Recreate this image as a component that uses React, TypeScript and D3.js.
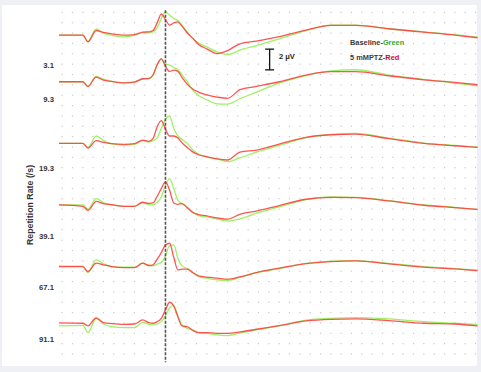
import React, { useEffect, useRef } from 'react';
import * as d3 from 'd3';

// sample times (ms), stimulus at 0
const times = [-51.5, -40, -37.5, -33.5, -30, -26, -20, -15, -11, -8, -6, -4, -2, 0, 2, 4, 6, 8, 10.5, 13, 16, 20, 25, 30, 36, 44, 55, 68, 80, 92, 108, 125, 140, 151];

// repetition rates (/s), top to bottom
const rateLabels = ['3.1', '9.3', '19.3', '39.1', '67.1', '91.1'];
const labelLevels = [27.9, 24.65, 17.95, 11.35, 6.45, 1.4];
const traceOffsets = [30.8, 26.3, 20.35, 14.4, 8.45, 3.0];

// baseline (green), uV relative to trace offset
const greenTraces = [
  [0, 0, -0.6, 0.61, 0.19, 0, -0.16, -0.03, 0.23, 0.23, 0.32, 0.71, 1.61, 2.25, 1.93, 1.61, 1.42, 0.97, 0.32, -0.26, -0.77, -1.13, -1.61, -1.87, -1.45, -1.0, -0.35, 0.45, 0.97, 0.97, 0.62, 0.32, 0.06, -0.18],
  [0, 0, -0.45, 0.52, 0.26, 0.03, -0.1, -0.03, 0.26, 0.29, 0.61, 1.64, 2.22, 1.77, 1.61, 1.38, 1.16, 0.68, 0.03, -0.77, -1.32, -1.74, -2.13, -2.16, -1.64, -1.0, -0.13, 0.6, 1.06, 1.16, 0.65, 0.22, -0.13, -0.39],
  [0, 0, -0.39, 0.71, 0.26, -0.06, -0.16, -0.1, 0.26, 0.13, 0.26, 0.52, 1.45, 2.32, 2.64, 1.45, 0.71, 0.39, 0, -0.58, -1.03, -1.32, -1.51, -1.77, -1.4, -0.85, -0.2, 0.55, 0.86, 0.96, 0.5, 0.03, -0.2, -0.36],
  [0, 0, -0.39, 0.61, 0.23, 0, -0.13, -0.13, 0.23, 0.03, 0, 0.26, 0.77, 1.9, 2.54, 1.58, 0.45, 0.13, -0.19, -0.64, -1.03, -1.16, -1.35, -1.55, -1.35, -0.8, -0.19, 0.52, 0.77, 0.74, 0.42, 0, -0.23, -0.45],
  [0.03, 0.03, -0.58, 0.64, 0.26, 0, -0.06, -0.06, 0.32, 0.1, 0.06, 0.23, 0.39, 1.03, 2.05, 2.1, 0.8, 0.06, -0.19, -0.48, -0.97, -1.13, -1.29, -1.35, -1.05, -0.6, -0.2, 0.3, 0.52, 0.58, 0.3, 0, -0.2, -0.36],
  [-0.29, -0.23, -0.93, 0.45, -0.1, -0.35, -0.45, -0.45, 0.06, -0.13, -0.19, -0.1, 0.13, 0.68, 1.45, 1.7, 0.68, -0.19, -0.52, -0.68, -0.93, -1.0, -1.16, -1.22, -0.97, -0.68, -0.29, 0.26, 0.45, 0.52, 0.39, 0.13, -0.03, -0.16],
];

// 5 mM PTZ (red)
const redTraces = [
  [0, 0, -0.64, 0.45, 0.26, 0.13, 0, 0.06, 0.29, 0.32, 0.45, 1.19, 2.06, 1.51, 0.97, 1.19, 1.29, 0.87, 0.23, -0.26, -0.9, -1.32, -1.78, -1.5, -0.83, -0.58, -0.15, 0.48, 0.94, 0.94, 0.62, 0.29, 0, -0.25],
  [0, 0, -0.45, 0.45, 0.16, 0.03, -0.1, -0.03, 0.29, 0.32, 0.68, 1.64, 2.22, 1.48, 1.0, 1.13, 1.0, 0.42, -0.23, -0.68, -1.0, -1.26, -1.48, -1.6, -0.77, -0.45, 0, 0.65, 0.97, 0.97, 0.58, 0.19, -0.06, -0.29],
  [0, 0, -0.45, 0.26, 0.1, -0.03, -0.1, -0.03, 0.32, 0.19, 0.48, 1.61, 2.19, 1.35, 0.71, 0.71, 0.52, 0.06, -0.39, -0.8, -1.1, -1.29, -1.51, -1.61, -0.85, -0.65, -0.07, 0.58, 0.83, 0.9, 0.45, 0, -0.23, -0.39],
  [0, -0.13, -0.52, 0.35, 0.13, 0.03, -0.13, -0.13, 0.26, 0.16, 0.19, 0.84, 1.58, 2.22, 1.42, 0.19, 0.06, 0.13, -0.26, -0.71, -0.93, -1.06, -1.26, -1.38, -0.9, -0.6, -0.06, 0.55, 0.74, 0.71, 0.39, -0.03, -0.26, -0.42],
  [0, 0, -0.48, 0.32, 0.16, 0, -0.1, -0.1, 0.32, 0.1, 0.16, 0.71, 1.35, 2.09, 2.25, 0.9, -0.32, -0.26, -0.26, -0.58, -0.9, -1.03, -1.13, -1.22, -1.0, -0.58, -0.16, 0.29, 0.48, 0.55, 0.26, -0.06, -0.22, -0.39],
  [0, -0.03, -0.28, 0.48, 0.03, -0.06, -0.13, -0.1, 0.29, 0.03, -0.03, 0.13, 0.45, 1.26, 2.0, 1.64, 0.61, -0.29, -0.35, -0.68, -0.93, -0.93, -1.0, -1.0, -0.87, -0.61, -0.26, 0.19, 0.35, 0.39, 0.23, -0.03, -0.1, -0.29],
];

const W = 481;
const H = 372;
const FONT = '"Liberation Sans", Arial, sans-serif';

export default function App() {
  const ref = useRef<SVGSVGElement>(null);

  useEffect(() => {
    const svg = d3.select(ref.current);
    svg.selectAll('*').remove();

    const x = d3.scaleLinear().domain([-51.5, 151]).range([59, 477.6]);
    const y = d3.scaleLinear().domain([0, 33]).range([354, 12.4]);

    svg.append('rect').attr('width', W).attr('height', H).attr('fill', '#eef0f5');
    svg.append('rect').attr('x', 2).attr('y', 5).attr('width', 475).attr('height', 361).attr('fill', '#fff');

    // dotted grid: 5 ms x 1 uV
    const grid = svg.append('g');
    d3.range(-50, 151, 5).forEach((t) => {
      grid.selectAll(null)
        .data(d3.range(0, 34))
        .enter()
        .append('rect')
        .attr('x', x(t) - 0.6)
        .attr('y', (v) => y(v) - 0.6)
        .attr('width', 1.2)
        .attr('height', 1.2)
        .attr('fill', '#c8c8c8');
    });

    const drawTrace = (vals: number[], offset: number, color: string, opacity: number) => {
      const line = d3.line<number>()
        .x((d, i) => x(times[i]))
        .y((d) => y(offset + d))
        .curve(d3.curveMonotoneX);
      svg.append('path')
        .attr('d', line(vals))
        .attr('fill', 'none')
        .attr('stroke', color)
        .attr('stroke-width', 1.3)
        .attr('stroke-opacity', opacity);
    };

    traceOffsets.forEach((off, i) => {
      drawTrace(greenTraces[i], off, '#98f05a', 0.95);
      drawTrace(redTraces[i], off, '#ff4040', 0.9);
    });

    // stimulus marker
    svg.append('line')
      .attr('x1', x(0)).attr('x2', x(0))
      .attr('y1', y(33.2)).attr('y2', y(-0.8))
      .attr('stroke', '#555')
      .attr('stroke-width', 1.6)
      .attr('stroke-dasharray', '3,1.5');

    // y labels
    svg.selectAll('.rate')
      .data(rateLabels)
      .enter()
      .append('text')
      .attr('class', 'rate')
      .attr('x', 54)
      .attr('y', (d, i) => y(labelLevels[i]))
      .attr('dy', '0.35em')
      .attr('text-anchor', 'end')
      .attr('font-family', FONT)
      .attr('font-weight', 'bold')
      .attr('font-size', 7.7)
      .attr('fill', '#333')
      .text((d) => d);

    svg.append('text')
      .attr('transform', 'translate(33,205) rotate(-90)')
      .attr('text-anchor', 'middle')
      .attr('font-family', FONT)
      .attr('font-weight', 'bold')
      .attr('font-size', 8.8)
      .attr('fill', '#333')
      .text('Repetition Rate (/s)');

    // 2 uV scale bar
    const sb = svg.append('g').attr('stroke', '#111').attr('stroke-width', 1.3);
    const sx = x(50.4);
    sb.append('line').attr('x1', sx).attr('x2', sx).attr('y1', y(29.45)).attr('y2', y(27.45));
    sb.append('line').attr('x1', sx - 4.5).attr('x2', sx + 4.5).attr('y1', y(29.45)).attr('y2', y(29.45));
    sb.append('line').attr('x1', sx - 4.5).attr('x2', sx + 4.5).attr('y1', y(27.45)).attr('y2', y(27.45));
    svg.append('text')
      .attr('x', 279).attr('y', 59.3)
      .attr('font-family', FONT).attr('font-weight', 'bold').attr('font-size', 7.5)
      .attr('fill', '#222')
      .text('2 μV');

    // legend
    const leg = [
      ['Baseline-', 'Green', '#3aa53a'],
      ['5 mMPTZ-', 'Red', '#d8002c'],
    ];
    leg.forEach((l, i) => {
      const t = svg.append('text')
        .attr('x', 350).attr('y', 45.4 + i * 14.5)
        .attr('font-family', FONT).attr('font-weight', 'bold').attr('font-size', 7.4);
      t.append('tspan').attr('fill', '#3b3b3b').text(l[0]);
      t.append('tspan').attr('fill', l[2]).text(l[1]);
    });
  }, []);

  return (
    <svg ref={ref} width={W} height={H} style={{ position: 'absolute', left: 0, top: 0 }} />
  );
}
